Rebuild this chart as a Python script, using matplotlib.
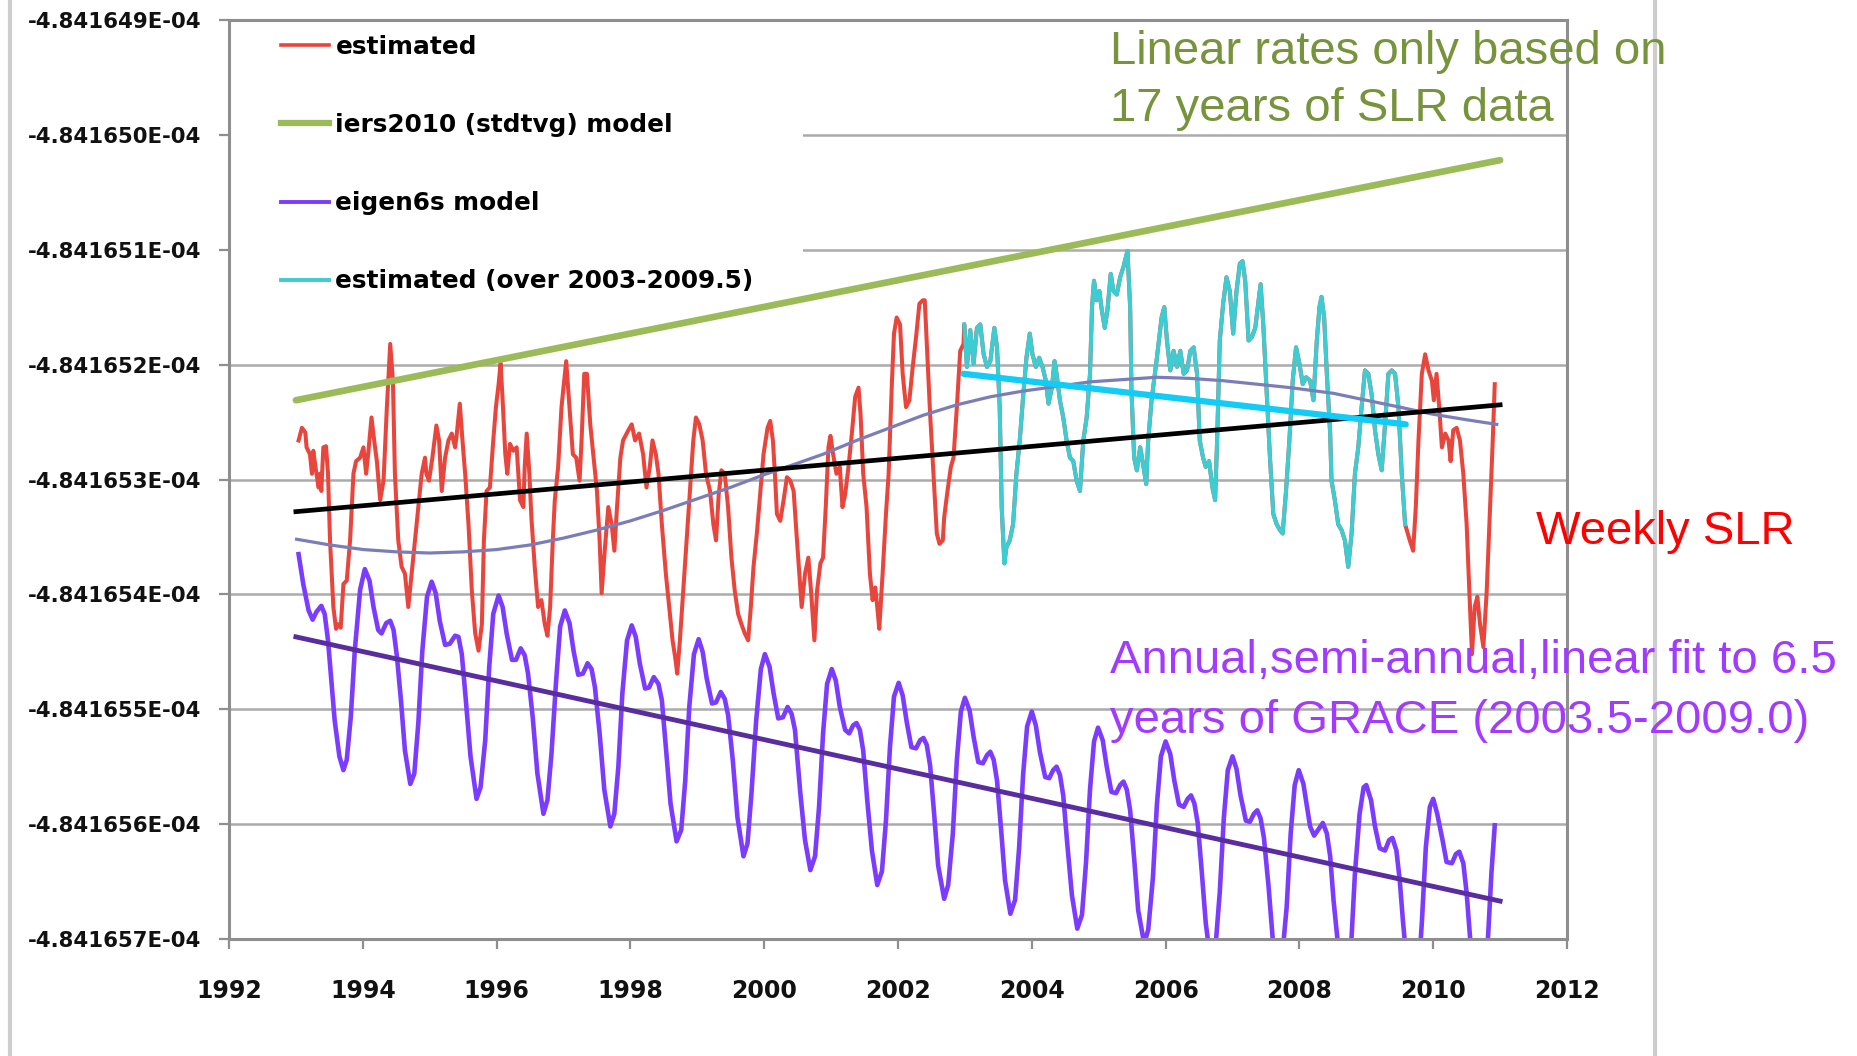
import matplotlib
matplotlib.use("Agg")
import matplotlib.pyplot as plt
from matplotlib.lines import Line2D
from matplotlib.patches import Rectangle
from matplotlib.ticker import FuncFormatter
import numpy as np

# ---------------- data (values in units of 1e-10) ----------------
est_year = [
 1993.04,1993.09,1993.14,1993.16,1993.21,1993.24,1993.26,1993.30,1993.34,1993.36,1993.38,1993.41,1993.45,1993.48,
 1993.51,1993.56,1993.60,1993.63,1993.67,1993.71,1993.76,1993.81,1993.86,1993.90,1993.96,1994.01,1994.05,1994.08,
 1994.13,1994.17,1994.21,1994.26,1994.31,1994.36,1994.41,1994.45,1994.48,1994.53,1994.58,1994.63,1994.68,1994.73,
 1994.78,1994.83,1994.88,1994.93,1994.95,1994.99,1995.04,1995.10,1995.14,1995.18,1995.23,1995.28,1995.33,1995.38,
 1995.40,1995.45,1995.49,1995.53,1995.58,1995.63,1995.68,1995.73,1995.78,1995.81,1995.85,1995.90,1995.95,1995.99,
 1996.03,1996.06,1996.09,1996.13,1996.16,1996.20,1996.25,1996.30,1996.35,1996.40,1996.42,1996.45,1996.49,1996.52,
 1996.57,1996.62,1996.67,1996.72,1996.76,1996.80,1996.84,1996.87,1996.92,1996.97,1997.04,1997.09,1997.14,1997.19,
 1997.24,1997.27,1997.31,1997.35,1997.40,1997.45,1997.50,1997.54,1997.57,1997.62,1997.67,1997.72,1997.76,1997.80,
 1997.85,1997.89,1997.97,1998.02,1998.07,1998.13,1998.19,1998.24,1998.29,1998.33,1998.38,1998.42,1998.47,1998.53,
 1998.58,1998.63,1998.67,1998.70,1998.74,1998.79,1998.84,1998.89,1998.94,1998.98,1999.03,1999.08,1999.13,1999.19,
 1999.24,1999.28,1999.32,1999.36,1999.41,1999.46,1999.51,1999.56,1999.61,1999.66,1999.71,1999.76,1999.80,1999.84,
 1999.89,1999.94,1999.99,2000.05,2000.09,2000.13,2000.16,2000.19,2000.24,2000.29,2000.34,2000.39,2000.44,2000.49,
 2000.56,2000.61,2000.66,2000.70,2000.75,2000.79,2000.84,2000.88,2000.92,2000.96,2000.99,2001.03,2001.08,2001.13,
 2001.17,2001.21,2001.26,2001.31,2001.36,2001.41,2001.44,2001.48,2001.53,2001.58,2001.62,2001.66,2001.69,2001.72,
 2001.77,2001.82,2001.86,2001.91,2001.94,2001.98,2002.03,2002.07,2002.12,2002.17,2002.22,2002.27,2002.32,2002.37,
 2002.40,2002.44,2002.48,2002.53,2002.58,2002.62,2002.67,2002.69,2002.74,2002.79,2002.83,2002.88,2002.93,2002.98,
 2002.99,2003.03,2003.08,2003.13,2003.18,2003.23,2003.28,2003.33,2003.38,2003.44,2003.48,2003.52,2003.55,2003.59,
 2003.62,2003.67,2003.72,2003.77,2003.82,2003.87,2003.92,2003.97,2004.01,2004.06,2004.11,2004.16,2004.21,2004.25,
 2004.30,2004.34,2004.37,2004.42,2004.47,2004.52,2004.57,2004.62,2004.67,2004.72,2004.77,2004.82,2004.87,2004.90,
 2004.93,2004.97,2005.01,2005.04,2005.09,2005.13,2005.18,2005.22,2005.27,2005.32,2005.37,2005.43,2005.47,2005.49,
 2005.53,2005.57,2005.62,2005.67,2005.71,2005.74,2005.79,2005.87,2005.94,2005.98,2006.02,2006.07,2006.12,2006.17,
 2006.22,2006.27,2006.32,2006.37,2006.42,2006.47,2006.51,2006.56,2006.60,2006.65,2006.70,2006.74,2006.77,2006.81,
 2006.86,2006.91,2006.96,2007.01,2007.06,2007.11,2007.15,2007.19,2007.24,2007.29,2007.34,2007.39,2007.42,2007.46,
 2007.51,2007.56,2007.61,2007.66,2007.71,2007.75,2007.80,2007.85,2007.90,2007.95,2008.00,2008.05,2008.10,2008.16,
 2008.21,2008.26,2008.30,2008.33,2008.37,2008.41,2008.46,2008.48,2008.53,2008.58,2008.63,2008.68,2008.73,2008.78,
 2008.83,2008.88,2008.93,2008.98,2009.03,2009.08,2009.13,2009.18,2009.23,2009.28,2009.33,2009.38,2009.43,2009.48,
 2009.53,2009.58,2009.65,2009.70,2009.74,2009.78,2009.83,2009.88,2009.93,2009.98,2010.01,2010.05,2010.09,2010.13,
 2010.18,2010.23,2010.26,2010.30,2010.35,2010.40,2010.45,2010.50,2010.54,2010.58,2010.62,2010.66,2010.70,2010.75,
 2010.80,2010.85,2010.89,2010.92]
est_val = [
 -4841652.66,-4841652.55,-4841652.59,-4841652.72,-4841652.78,-4841652.95,-4841652.75,-4841652.92,-4841653.07,-4841652.95,-4841653.10,-4841652.72,-4841652.71,-4841652.95,
 -4841653.53,-4841654.11,-4841654.30,-4841654.26,-4841654.29,-4841653.91,-4841653.88,-4841653.53,-4841652.95,-4841652.84,-4841652.81,-4841652.72,-4841652.95,-4841652.78,
 -4841652.46,-4841652.66,-4841652.84,-4841653.18,-4841653.01,-4841652.37,-4841651.82,-4841652.14,-4841652.95,-4841653.53,-4841653.76,-4841653.82,-4841654.11,-4841653.82,
 -4841653.53,-4841653.24,-4841652.95,-4841652.81,-4841652.95,-4841653.01,-4841652.81,-4841652.53,-4841652.66,-4841653.10,-4841652.81,-4841652.66,-4841652.60,-4841652.72,
 -4841652.63,-4841652.34,-4841652.66,-4841652.95,-4841653.39,-4841653.97,-4841654.34,-4841654.49,-4841654.26,-4841653.53,-4841653.10,-4841653.07,-4841652.66,-4841652.37,
 -4841652.17,-4841651.99,-4841652.31,-4841652.78,-4841652.95,-4841652.69,-4841652.75,-4841652.72,-4841653.18,-4841653.24,-4841652.89,-4841652.60,-4841652.95,-4841653.33,
 -4841653.76,-4841654.11,-4841654.05,-4841654.26,-4841654.36,-4841654.11,-4841653.53,-4841653.18,-4841652.89,-4841652.37,-4841651.97,-4841652.37,-4841652.78,-4841652.81,
 -4841653.01,-4841652.66,-4841652.08,-4841652.08,-4841652.52,-4841652.81,-4841653.10,-4841653.53,-4841653.99,-4841653.59,-4841653.24,-4841653.39,-4841653.62,-4841653.24,
 -4841652.81,-4841652.66,-4841652.57,-4841652.52,-4841652.66,-4841652.60,-4841652.78,-4841653.07,-4841652.89,-4841652.66,-4841652.78,-4841652.95,-4841653.39,-4841653.82,
 -4841654.11,-4841654.40,-4841654.55,-4841654.69,-4841654.40,-4841653.97,-4841653.53,-4841653.10,-4841652.66,-4841652.46,-4841652.52,-4841652.66,-4841652.95,-4841653.10,
 -4841653.39,-4841653.53,-4841653.13,-4841652.92,-4841652.95,-4841653.24,-4841653.68,-4841653.97,-4841654.17,-4841654.26,-4841654.34,-4841654.40,-4841654.11,-4841653.76,
 -4841653.47,-4841653.13,-4841652.78,-4841652.55,-4841652.49,-4841652.66,-4841652.95,-4841653.30,-4841653.36,-4841653.18,-4841652.98,-4841653.01,-4841653.10,-4841653.53,
 -4841654.11,-4841653.82,-4841653.68,-4841653.97,-4841654.40,-4841653.97,-4841653.73,-4841653.68,-4841653.24,-4841652.72,-4841652.62,-4841652.78,-4841652.95,-4841652.89,
 -4841653.24,-4841653.13,-4841652.89,-4841652.60,-4841652.28,-4841652.20,-4841652.43,-4841652.95,-4841653.24,-4841653.82,-4841654.05,-4841653.94,-4841654.11,-4841654.30,
 -4841653.82,-4841653.30,-4841652.95,-4841652.14,-4841651.73,-4841651.59,-4841651.65,-4841652.08,-4841652.37,-4841652.31,-4841652.02,-4841651.76,-4841651.47,-4841651.44,
 -4841651.44,-4841651.94,-4841652.43,-4841652.95,-4841653.47,-4841653.56,-4841653.53,-4841653.33,-4841653.10,-4841652.89,-4841652.81,-4841652.37,-4841651.88,-4841651.82,
 -4841651.65,-4841652.02,-4841651.70,-4841651.99,-4841651.68,-4841651.65,-4841651.91,-4841652.02,-4841651.97,-4841651.68,-4841651.85,-4841652.37,-4841653.24,-4841653.73,
 -4841653.59,-4841653.53,-4841653.39,-4841652.95,-4841652.66,-4841652.28,-4841651.94,-4841651.73,-4841651.91,-4841652.02,-4841651.94,-4841652.02,-4841652.14,-4841652.34,
 -4841652.20,-4841651.97,-4841652.08,-4841652.31,-4841652.46,-4841652.66,-4841652.81,-4841652.84,-4841653.01,-4841653.10,-4841652.66,-4841652.46,-4841652.08,-4841651.50,
 -4841651.27,-4841651.44,-4841651.36,-4841651.50,-4841651.68,-4841651.53,-4841651.21,-4841651.36,-4841651.39,-4841651.24,-4841651.15,-4841651.01,-4841651.50,-4841652.23,
 -4841652.81,-4841652.92,-4841652.72,-4841652.89,-4841653.04,-4841652.66,-4841652.31,-4841651.94,-4841651.59,-4841651.50,-4841651.79,-4841652.05,-4841651.88,-4841652.02,
 -4841651.88,-4841652.08,-4841652.05,-4841651.88,-4841651.85,-4841652.08,-4841652.66,-4841652.81,-4841652.89,-4841652.84,-4841653.07,-4841653.18,-4841652.66,-4841651.79,
 -4841651.47,-4841651.24,-4841651.36,-4841651.73,-4841651.36,-4841651.12,-4841651.10,-4841651.27,-4841651.79,-4841651.76,-4841651.68,-4841651.44,-4841651.30,-4841651.65,
 -4841652.23,-4841652.81,-4841653.30,-4841653.39,-4841653.44,-4841653.47,-4841653.10,-4841652.66,-4841652.14,-4841651.85,-4841651.99,-4841652.17,-4841652.11,-4841652.14,
 -4841652.31,-4841651.79,-4841651.50,-4841651.41,-4841651.59,-4841652.08,-4841652.60,-4841653.01,-4841653.18,-4841653.39,-4841653.44,-4841653.53,-4841653.76,-4841653.47,
 -4841652.95,-4841652.72,-4841652.37,-4841652.05,-4841652.08,-4841652.26,-4841652.57,-4841652.78,-4841652.92,-4841652.52,-4841652.08,-4841652.05,-4841652.08,-4841652.37,
 -4841652.95,-4841653.39,-4841653.53,-4841653.62,-4841653.24,-4841652.66,-4841652.08,-4841651.91,-4841652.05,-4841652.14,-4841652.31,-4841652.08,-4841652.37,-4841652.72,
 -4841652.60,-4841652.66,-4841652.84,-4841652.57,-4841652.55,-4841652.66,-4841652.95,-4841653.39,-4841653.97,-4841654.52,-4841654.11,-4841654.02,-4841654.26,-4841654.46,
 -4841653.97,-4841653.24,-4841652.66,-4841652.17]
window_start, window_end = 2002.99, 2009.58   # "estimated (over 2003-2009.5)"

eig_year = [
 1993.04,1993.11,1993.19,1993.25,1993.31,1993.38,1993.43,1993.48,1993.53,1993.58,1993.65,1993.71,1993.76,1993.82,1993.88,1993.96,
 1994.03,1994.10,1994.16,1994.23,1994.28,1994.35,1994.41,1994.46,1994.51,1994.57,1994.63,1994.71,1994.77,1994.83,1994.89,1994.96,
 1995.03,1995.09,1995.15,1995.23,1995.30,1995.38,1995.43,1995.48,1995.54,1995.61,1995.70,1995.76,1995.83,1995.89,1995.95,
 1996.03,1996.09,1996.15,1996.23,1996.29,1996.36,1996.42,1996.47,1996.54,1996.61,1996.70,1996.76,1996.82,1996.89,1996.95,
 1997.02,1997.09,1997.15,1997.22,1997.29,1997.36,1997.42,1997.47,1997.54,1997.61,1997.70,1997.76,1997.82,1997.88,1997.95,
 1998.02,1998.08,1998.14,1998.22,1998.28,1998.35,1998.42,1998.47,1998.53,1998.60,1998.69,1998.76,1998.82,1998.88,1998.95,
 1999.02,1999.08,1999.14,1999.22,1999.28,1999.35,1999.41,1999.46,1999.53,1999.60,1999.69,1999.75,1999.81,1999.88,1999.95,
 2000.01,2000.08,2000.14,2000.21,2000.28,2000.35,2000.41,2000.46,2000.54,2000.61,2000.69,2000.76,2000.82,2000.88,2000.94,
 2001.01,2001.07,2001.13,2001.21,2001.27,2001.33,2001.38,2001.43,2001.48,2001.54,2001.61,2001.69,2001.76,2001.82,2001.88,2001.94,
 2002.01,2002.07,2002.13,2002.20,2002.27,2002.33,2002.38,2002.43,2002.48,2002.54,2002.60,2002.69,2002.75,2002.82,2002.88,2002.94,
 2003.00,2003.07,2003.13,2003.20,2003.27,2003.33,2003.38,2003.43,2003.48,2003.54,2003.60,2003.68,2003.75,2003.81,2003.87,2003.93,
 2004.00,2004.06,2004.12,2004.20,2004.26,2004.32,2004.37,2004.42,2004.47,2004.53,2004.60,2004.68,2004.75,2004.81,2004.87,2004.93,
 2004.99,2005.06,2005.12,2005.19,2005.26,2005.32,2005.37,2005.42,2005.47,2005.53,2005.59,2005.68,2005.74,2005.81,2005.87,2005.93,
 2006.00,2006.07,2006.13,2006.20,2006.27,2006.33,2006.38,2006.43,2006.48,2006.54,2006.60,2006.67,2006.75,2006.81,2006.87,2006.93,
 2007.00,2007.06,2007.12,2007.20,2007.26,2007.32,2007.37,2007.42,2007.47,2007.54,2007.60,2007.67,2007.74,2007.81,2007.87,2007.93,
 2007.99,2008.06,2008.16,2008.22,2008.28,2008.35,2008.41,2008.46,2008.51,2008.57,2008.65,2008.73,2008.78,2008.83,2008.90,2008.96,
 2009.00,2009.07,2009.13,2009.20,2009.28,2009.34,2009.39,2009.45,2009.50,2009.55,2009.63,2009.70,2009.78,2009.83,2009.89,2009.95,
 2010.00,2010.06,2010.14,2010.20,2010.28,2010.34,2010.39,2010.45,2010.50,2010.55,2010.62,2010.70,2010.77,2010.82,2010.87,2010.92]
eig_val = [
 -4841653.65,-4841653.91,-4841654.14,-4841654.22,-4841654.15,-4841654.10,-4841654.17,-4841654.40,-4841654.75,-4841655.10,-4841655.41,-4841655.53,-4841655.44,-4841655.07,-4841654.49,-4841653.96,
 -4841653.78,-4841653.88,-4841654.11,-4841654.31,-4841654.34,-4841654.25,-4841654.23,-4841654.31,-4841654.54,-4841654.92,-4841655.36,-4841655.65,-4841655.56,-4841655.12,-4841654.49,-4841654.02,
 -4841653.89,-4841653.99,-4841654.23,-4841654.44,-4841654.43,-4841654.36,-4841654.37,-4841654.52,-4841654.92,-4841655.41,-4841655.78,-4841655.68,-4841655.27,-4841654.63,-4841654.17,
 -4841654.01,-4841654.11,-4841654.34,-4841654.57,-4841654.57,-4841654.47,-4841654.53,-4841654.69,-4841655.07,-4841655.56,-4841655.91,-4841655.79,-4841655.39,-4841654.75,-4841654.28,
 -4841654.14,-4841654.25,-4841654.49,-4841654.70,-4841654.69,-4841654.60,-4841654.65,-4841654.81,-4841655.21,-4841655.70,-4841656.02,-4841655.91,-4841655.50,-4841654.86,-4841654.40,
 -4841654.27,-4841654.37,-4841654.60,-4841654.82,-4841654.81,-4841654.72,-4841654.78,-4841654.92,-4841655.33,-4841655.82,-4841656.15,-4841656.05,-4841655.62,-4841654.98,-4841654.52,
 -4841654.39,-4841654.50,-4841654.73,-4841654.95,-4841654.94,-4841654.85,-4841654.91,-4841655.05,-4841655.44,-4841655.94,-4841656.28,-4841656.17,-4841655.73,-4841655.10,-4841654.65,
 -4841654.52,-4841654.63,-4841654.86,-4841655.08,-4841655.07,-4841654.98,-4841655.04,-4841655.18,-4841655.73,-4841656.14,-4841656.40,-4841656.28,-4841655.85,-4841655.21,-4841654.78,
 -4841654.65,-4841654.75,-4841654.98,-4841655.18,-4841655.21,-4841655.14,-4841655.12,-4841655.18,-4841655.36,-4841655.79,-4841656.23,-4841656.53,-4841656.41,-4841655.97,-4841655.33,-4841654.89,
 -4841654.77,-4841654.88,-4841655.11,-4841655.33,-4841655.34,-4841655.27,-4841655.25,-4841655.31,-4841655.49,-4841655.91,-4841656.36,-4841656.65,-4841656.53,-4841656.08,-4841655.44,-4841655.02,
 -4841654.90,-4841655.01,-4841655.24,-4841655.46,-4841655.47,-4841655.40,-4841655.37,-4841655.44,-4841655.62,-4841656.04,-4841656.49,-4841656.78,-4841656.66,-4841656.21,-4841655.57,-4841655.15,
 -4841655.02,-4841655.14,-4841655.37,-4841655.59,-4841655.60,-4841655.53,-4841655.50,-4841655.57,-4841655.75,-4841656.17,-4841656.62,-4841656.91,-4841656.79,-4841656.34,-4841655.70,-4841655.28,
 -4841655.16,-4841655.27,-4841655.50,-4841655.72,-4841655.73,-4841655.66,-4841655.63,-4841655.70,-4841655.88,-4841656.30,-4841656.75,-4841657.04,-4841656.92,-4841656.47,-4841655.83,-4841655.41,
 -4841655.28,-4841655.39,-4841655.62,-4841655.83,-4841655.85,-4841655.78,-4841655.75,-4841655.82,-4841655.99,-4841656.41,-4841656.86,-4841657.18,-4841657.04,-4841656.59,-4841655.95,-4841655.53,
 -4841655.41,-4841655.52,-4841655.75,-4841655.97,-4841655.98,-4841655.91,-4841655.88,-4841655.95,-4841656.12,-4841656.55,-4841656.99,-4841657.31,-4841657.17,-4841656.72,-4841656.08,-4841655.66,
 -4841655.53,-4841655.65,-4841656.02,-4841656.10,-4841656.05,-4841655.99,-4841656.08,-4841656.28,-4841656.66,-4841657.01,-4841657.44,-4841657.30,-4841656.98,-4841656.43,-4841655.91,-4841655.68,
 -4841655.66,-4841655.79,-4841656.02,-4841656.21,-4841656.23,-4841656.14,-4841656.12,-4841656.23,-4841656.49,-4841656.86,-4841657.36,-4841657.56,-4841657.30,-4841656.86,-4841656.20,-4841655.85,
 -4841655.78,-4841655.91,-4841656.14,-4841656.33,-4841656.34,-4841656.26,-4841656.24,-4841656.34,-4841656.60,-4841656.98,-4841657.47,-4841657.68,-4841657.41,-4841656.98,-4841656.43,-4841656.01]

iers_year = [1993.0, 2011.0]
iers_val = [-4841652.31, -4841650.22]
slr_fit_year = [1993.0, 2011.0]
slr_fit_val = [-4841653.28, -4841652.35]
eig_fit_year = [1993.0, 2011.0]
eig_fit_val = [-4841654.37, -4841656.67]
win_fit_year = [2002.98, 2009.59]
win_fit_val = [-4841652.08, -4841652.52]
smooth_year = [1993.01, 1993.51, 1994.01, 1994.51, 1995.00, 1995.50, 1996.00, 1996.50, 1997.00, 1997.50,
               1998.00, 1998.49, 1998.99, 1999.49, 1999.99, 2000.39, 2000.88, 2001.38, 2001.88, 2002.38,
               2002.88, 2003.38, 2003.87, 2004.37, 2004.87, 2005.37, 2005.87, 2006.37, 2006.86, 2007.36,
               2007.86, 2008.51, 2009.00, 2009.50, 2009.98, 2010.50, 2010.95]
smooth_val = [-4841653.52, -4841653.57, -4841653.61, -4841653.63, -4841653.64, -4841653.63, -4841653.61, -4841653.57,
              -4841653.51, -4841653.44, -4841653.36, -4841653.27, -4841653.17, -4841653.07, -4841652.96, -4841652.88,
              -4841652.78, -4841652.66, -4841652.55, -4841652.44, -4841652.35, -4841652.28, -4841652.23, -4841652.19,
              -4841652.15, -4841652.13, -4841652.11, -4841652.12, -4841652.14, -4841652.17, -4841652.20, -4841652.25,
              -4841652.31, -4841652.37, -4841652.43, -4841652.48, -4841652.52]

y_ticks = [-4841649, -4841650, -4841651, -4841652, -4841653, -4841654, -4841655, -4841656, -4841657]
x_ticks = [1992, 1994, 1996, 1998, 2000, 2002, 2004, 2006, 2008, 2010, 2012]
legend_labels = ["estimated", "iers2010 (stdtvg) model", "eigen6s model", "estimated (over 2003-2009.5)"]

# ---------------- figure ----------------
W, H = 1858, 1056
fig = plt.figure(figsize=(W / 100, H / 100), dpi=100)
fig.patch.set_facecolor("white")
ax = fig.add_axes([229 / W, 1 - 939 / H, (1567 - 229) / W, (939 - 20) / H])
ax.set_axisbelow(True)

C_RED = "#E8453C"
C_GREEN = "#9BBB59"
C_PURPLE = "#7B3CFF"
C_CYAN = "#3CCCD2"
C_CYAN_FIT = "#12CCF5"
C_SLATE = "#7B7DB8"
C_PTREND = "#5A2D9F"

ey = np.array(est_year)
ev = np.array(est_val)
mask = (ey >= window_start) & (ey <= window_end)

ax.plot(ey, ev, color=C_RED, lw=2.9, zorder=2, solid_joinstyle="round")
ax.plot(ey[mask], ev[mask], color=C_CYAN, lw=2.9, zorder=2.2, solid_joinstyle="round")
ax.plot(eig_year, eig_val, color=C_PURPLE, lw=3.3, zorder=2, solid_joinstyle="round")
ax.plot(iers_year, iers_val, color=C_GREEN, lw=4.8, zorder=3, solid_capstyle="round")
ax.plot(smooth_year, smooth_val, color=C_SLATE, lw=2.3, zorder=3.5, solid_joinstyle="round")
ax.plot(slr_fit_year, slr_fit_val, color="black", lw=3.4, zorder=4)
ax.plot(eig_fit_year, eig_fit_val, color=C_PTREND, lw=3.5, zorder=4)
ax.plot(win_fit_year, win_fit_val, color=C_CYAN_FIT, lw=4.5, zorder=4.5, solid_capstyle="round")

ax.set_xlim(1992, 2012)
ax.set_ylim(-4841657, -4841649)
ax.set_xticks(x_ticks)
ax.set_yticks(y_ticks)
ax.yaxis.set_major_formatter(FuncFormatter(lambda v, p: f"{v * 1e-10:.6E}"))
ax.grid(axis="y", color="#ABABAB", lw=1.8)
for s in ax.spines.values():
    s.set_color("#8E8E8E")
    s.set_linewidth(2.2)
ax.tick_params(axis="both", direction="out", length=7, width=1.6, color="#8E8E8E")
ax.tick_params(axis="y", pad=13, labelsize=15.3)
ax.tick_params(axis="x", pad=22, labelsize=17)
for lab in ax.get_xticklabels() + ax.get_yticklabels():
    lab.set_fontweight("bold")
    lab.set_family("DejaVu Sans")
    lab.set_color("#111111")

# white legend area hiding gridlines
ax.add_patch(Rectangle((0, 1 - (300 - 20) / 919), (803 - 229) / 1338, (300 - 20) / 919,
                       transform=ax.transAxes, facecolor="white", edgecolor="none", zorder=1))
handles = [Line2D([], [], color=C_RED, lw=2.6),
           Line2D([], [], color=C_GREEN, lw=4.5),
           Line2D([], [], color=C_PURPLE, lw=2.8),
           Line2D([], [], color=C_CYAN, lw=2.8)]
leg = ax.legend(handles, legend_labels, loc="upper left",
                bbox_to_anchor=((281 - 229) / 1338, 1 - (35 - 20) / 919),
                frameon=False, borderaxespad=0, borderpad=0,
                prop={"family": "DejaVu Sans", "weight": "bold", "size": 17.8},
                handlelength=1.95, handletextpad=0.25, labelspacing=2.19)
leg.set_zorder(6)

# annotations
def ftext(x, y, s, color):
    fig.text(x / W, 1 - y / H, s, color=color, fontsize=34, family="Liberation Sans",
             ha="left", va="baseline", zorder=10)

ftext(1110, 64, "Linear rates only based on", "#77933C")
ftext(1110, 121, "17 years of SLR data", "#77933C")
ftext(1536, 544, "Weekly SLR", "#FF0000")
ftext(1110, 673, "Annual,semi-annual,linear fit to 6.5", "#A33BFF")
ftext(1110, 733, "years of GRACE (2003.5-2009.0)", "#A33BFF")

# slide frame lines
for xpix in (10, 1655):
    fig.add_artist(Line2D([xpix / W, xpix / W], [0, 1], transform=fig.transFigure,
                          color="#CDCDCD", lw=3, zorder=0))

fig.savefig("out.png", dpi=100, facecolor="white")
